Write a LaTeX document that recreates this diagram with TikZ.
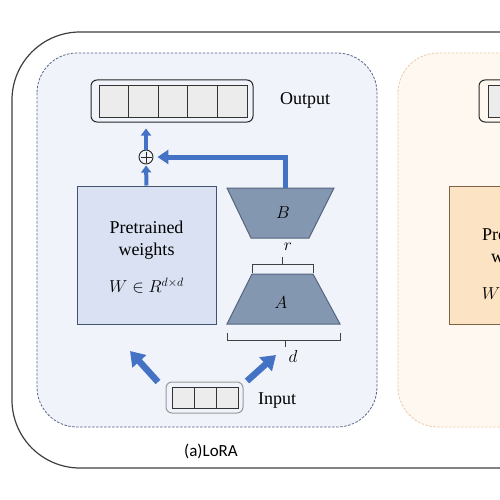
\documentclass[tikz,border=0pt]{standalone}
\usepackage{amsmath}
\usepackage{fontspec}
\setmainfont{Liberation Serif}
\newfontfamily\capfont{Carlito}
\usetikzlibrary{arrows.meta,positioning}

\definecolor{frameline}{HTML}{3F3F3F}
\definecolor{bluepanel}{HTML}{F0F3FA}
\definecolor{bluedash}{HTML}{55678A}
\definecolor{orangepanel}{HTML}{FEF8F1}
\definecolor{orangedash}{HTML}{EDCBA6}
\definecolor{prefill}{HTML}{D9E1F3}
\definecolor{preline}{HTML}{44546E}
\definecolor{orfill}{HTML}{FBE3C4}
\definecolor{orline}{HTML}{7E6347}
\definecolor{trapfill}{HTML}{8497B0}
\definecolor{trapline}{HTML}{55657F}
\definecolor{flowblue}{HTML}{4472C4}
\definecolor{cellgray}{HTML}{ECECEC}

\tikzset{
	txt/.style = {font=\fontsize{18}{22}\selectfont, inner sep=0pt},
	cell/.style = {draw=black!80, fill=cellgray, line width=0.8pt, inner sep=0pt},
	bar/.style = {draw=black!85, rounded corners=6pt, line width=1pt, inner sep=0pt},
	trap/.style = {fill=trapfill, draw=trapline, line width=1pt},
	brace/.style = {draw=black!75, line width=0.8pt},
	uparrow/.style = {draw=flowblue, line width=4pt, -{Triangle[width=10pt,length=7pt]}},
	barrow/.style = {draw=flowblue, line width=5pt, -{Triangle[width=14pt,length=11pt]}},
	inarrow/.style = {draw=flowblue, line width=6.5pt, -{Triangle[width=18pt,length=14pt]}}
}

\begin{document}
\begin{tikzpicture}[x=1pt,y=-1pt]
	\useasboundingbox (0,0) rectangle (500,500);
	\clip (0,0) rectangle (500,500);
	\fill[white] (0,0) rectangle (500,500);

	% outer frame and the two panels
	\draw[frameline, line width=1.2pt, rounded corners=68pt] (12,32) rectangle (900,468);
	\draw[fill=bluepanel, draw=bluedash, line width=0.8pt, dash pattern=on 2.5pt off 1.5pt, rounded corners=40pt] (37,53) rectangle (377,427);
	\draw[fill=orangepanel, draw=orangedash, line width=0.8pt, dash pattern=on 2.5pt off 1.5pt, rounded corners=40pt] (398,53) rectangle (760,427);

	% output vector
	\node[bar, minimum width=162pt, minimum height=42pt] (outbar) at (172,101) {};
	\foreach \i in {1,...,5}
		\node[cell, minimum width=29.6pt, minimum height=32pt] (o\i) at ({99+29.6*(\i-0.5)},101) {};
	\node[txt] (outtxt) at (305,100) {Output};

	% pretrained weights
	\node[draw=preline, fill=prefill, line width=1pt, minimum width=139pt, minimum height=138pt, inner sep=0pt] (pre) at (146.5,255) {};
	\node[txt, align=center] (pretxt) at (146.5,257) {Pretrained\\weights\\[15pt]$W \in R^{d\times d}$};

	% low rank pair
	\draw[trap] (227,188) coordinate (Bnw) -- (334,188) -- (309,238) -- (251,238) -- cycle;
	\node[txt] (B) at (283,213) {$B$};
	\coordinate (Btop) at (285,188);
	\draw[trap] (252,274) -- (313,274) -- (340,324) -- (227,324) -- cycle;
	\node[txt] (A) at (281,303) {$A$};

	\draw[brace] (252,273) -- (252,264) -- (313,264) -- (313,273);
	\draw[brace] (282,264) -- (282,257);
	\node[txt] (r) at (288,247) {$r$};
	\draw[brace] (227,333) -- (227,340) -- (340,340) -- (340,333);
	\draw[brace] (285,340) -- (285,347);
	\node[txt] (d) at (293,356) {$d$};

	% sum
	\node[draw=black!85, circle, minimum size=14pt, inner sep=0pt, line width=0.9pt,
		path picture={\draw[line width=0.9pt] ([yshift=-1.5pt]path picture bounding box.north) -- ([yshift=1.5pt]path picture bounding box.south)
		([xshift=1.5pt]path picture bounding box.west) -- ([xshift=-1.5pt]path picture bounding box.east);}] (plus) at (146,157) {};

	\draw[uparrow, shorten >=1pt] (pre.north) -- (plus.south);
	\draw[uparrow, shorten >=6pt] (plus.north) -- (plus.north |- outbar.south);
	\draw[barrow, shorten >=4pt] (Btop) |- (plus.east);

	% input vector
	\node[bar, draw=black!40, minimum width=77pt, minimum height=31pt] (inbar) at (204.5,397.5) {};
	\foreach \i in {1,2,3}
		\node[cell, minimum width=22pt, minimum height=21pt] (in\i) at ({172+22*(\i-0.5)},397.5) {};
	\node[txt] (intxt) at (277,401) {Input};

	\coordinate (inl) at (158,382);
	\coordinate (inr) at (247,381);
	\coordinate (tol) at (130,351);
	\coordinate (tor) at (276,355);
	\draw[inarrow] (inl) -- (tol);
	\draw[inarrow] (inr) -- (tor);

	\node[font=\capfont\fontsize{17}{20}\selectfont, inner sep=0pt] (cap) at (211,451) {(a)LoRA};

	% second panel, cut by the edge
	\node[bar, minimum width=162pt, minimum height=42pt] (outbar2) at (560,101) {};
	\foreach \i in {1,...,5}
		\node[cell, minimum width=29.6pt, minimum height=32pt] (p\i) at ({488+29.6*(\i-0.5)},101) {};
	\node[draw=orline, fill=orfill, line width=1pt, minimum width=140pt, minimum height=138pt, inner sep=0pt] (pre2) at (519,255) {};
	\node[txt, align=center] (pretxt2) at (519,264) {Pretrained\\weights\\[15pt]$W \in R^{d\times d}$};
\end{tikzpicture}
\end{document}
